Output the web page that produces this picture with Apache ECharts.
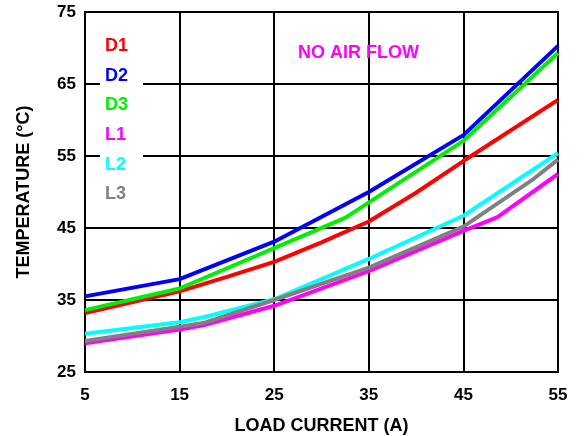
<!DOCTYPE html>
<html>
<head>
<meta charset="utf-8">
<script src="https://cdn.jsdelivr.net/npm/echarts@6/dist/echarts.min.js"></script>
<style>
  html, body { margin: 0; padding: 0; background: #fff; }
  #chart { width: 584px; height: 436px; }
</style>
</head>
<body>
<div id="chart"></div>
<script>
// Load current (A) sample points and measured temperatures (°C) per component
const d1Current = [5, 15, 20, 25, 30, 35, 40, 45, 55];
const d1Temp    = [33.2, 36.2, 38.2, 40.3, 43.0, 45.9, 49.9, 54.3, 62.8];

const d2Current = [5, 15, 25, 35, 45, 55];
const d2Temp    = [35.5, 37.9, 43.1, 50.0, 57.9, 70.3];

const d3Current = [5, 15, 25, 32.5, 45, 55];
const d3Temp    = [33.6, 36.6, 42.2, 46.4, 57.1, 69.3];

const l1Current = [5, 15, 17.5, 25, 35, 45, 48.6, 55];
const l1Temp    = [29.0, 30.9, 31.5, 34.2, 39.0, 44.6, 46.5, 52.5];

const l2Current = [5, 15, 17.5, 25, 35, 45, 55];
const l2Temp    = [30.3, 31.9, 32.6, 35.1, 40.7, 46.7, 55.4];

const l3Current = [5, 15, 17.5, 25, 35, 45, 52.4, 55];
const l3Temp    = [29.3, 31.3, 31.8, 35.0, 39.5, 45.2, 51.8, 54.5];

const seriesNames  = ['D1', 'D2', 'D3', 'L1', 'L2', 'L3'];
const seriesColors = ['#ff0000', '#0000ff', '#00ee00', '#ff00ff', '#00ffff', '#808080'];
const currents = [d1Current, d2Current, d3Current, l1Current, l2Current, l3Current];
const temps    = [d1Temp, d2Temp, d3Temp, l1Temp, l2Temp, l3Temp];

const xTitle = 'LOAD CURRENT (A)';
const yTitle = 'TEMPERATURE (°C)';
const noteText = 'NO AIR FLOW';

const FONT = 'Liberation Sans, Arial, sans-serif';

const chart = echarts.init(document.getElementById('chart'), null, { renderer: 'canvas' });

const series = seriesNames.map((name, i) => ({
  name: name,
  type: 'line',
  data: currents[i].map((c, k) => [c, temps[i][k]]),
  showSymbol: false,
  symbol: 'none',
  smooth: false,
  lineStyle: { color: seriesColors[i], width: 4 },
  itemStyle: { color: seriesColors[i] },
  z: 3
}));

chart.setOption({
  animation: false,
  backgroundColor: '#fff',
  grid: {
    left: 85, right: 26, top: 12, bottom: 64,
    containLabel: false,
    outerBoundsMode: 'none',
    show: true, borderColor: '#000', borderWidth: 2
  },
  xAxis: {
    type: 'value', min: 5, max: 55, interval: 10,
    axisLine: { show: true, lineStyle: { color: '#000', width: 2 } },
    axisTick: { show: false },
    splitLine: { show: true, lineStyle: { color: '#000', width: 2 } },
    axisLabel: { color: '#000', fontFamily: FONT, fontWeight: 'bold', fontSize: 17, margin: 15 },
    name: xTitle, nameLocation: 'middle', nameGap: 45,
    nameTextStyle: { color: '#000', fontFamily: FONT, fontWeight: 'bold', fontSize: 18 }
  },
  yAxis: {
    type: 'value', min: 25, max: 75, interval: 10,
    axisLine: { show: true, lineStyle: { color: '#000', width: 2 } },
    axisTick: { show: false },
    splitLine: { show: true, lineStyle: { color: '#000', width: 2 } },
    axisLabel: { color: '#000', fontFamily: FONT, fontWeight: 'bold', fontSize: 17, margin: 9, padding: [5, 0, 0, 0] },
    name: yTitle, nameLocation: 'middle', nameGap: 52, nameRotate: 90,
    nameTextStyle: { color: '#000', fontFamily: FONT, fontWeight: 'bold', fontSize: 18 }
  },
  legend: {
    orient: 'vertical',
    left: 100, top: 29,
    padding: [8, 15, 8, 0],
    backgroundColor: '#fff',
    icon: 'none',
    itemWidth: 0, itemHeight: 14,
    itemGap: 11.7,
    selectedMode: false,
    textStyle: { fontFamily: FONT, fontWeight: 'bold', fontSize: 18 },
    data: seriesNames.map((n, i) => ({ name: n, textStyle: { color: seriesColors[i] } }))
  },
  graphic: [{
    type: 'text',
    left: 298, top: 44,
    z: 5,
    style: {
      text: noteText,
      fill: '#ff00ff',
      font: 'bold 18px ' + FONT
    }
  }],
  series: series
});
</script>
</body>
</html>
